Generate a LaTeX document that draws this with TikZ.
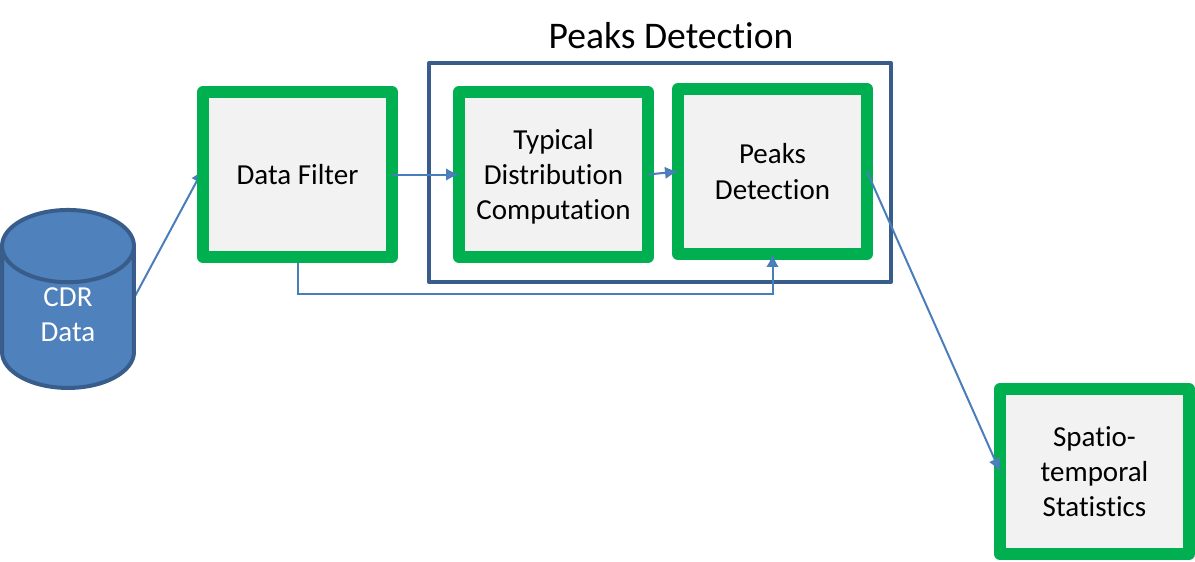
\documentclass[tikz,border=0pt]{standalone}
\usepackage{fontspec}
\setmainfont{Carlito}[Ligatures=NoCommon]
\usetikzlibrary{arrows.meta,shapes.geometric,backgrounds}
\definecolor{boxgreen}{HTML}{00B050}
\definecolor{boxgray}{HTML}{F2F2F2}
\definecolor{linkblue}{HTML}{4A7EBB}
\definecolor{dbblue}{HTML}{4F81BD}
\definecolor{edgeblue}{HTML}{385D8A}
\tikzset{
    stage/.style={draw=boxgreen, fill=boxgray, line width=0.24cm, line join=round,
        minimum width=3.78cm, minimum height=3.3cm, outer sep=0pt, inner sep=0pt,
        align=center, text depth=0pt, font=\fontsize{16.5}{20}\selectfont},
    link/.style={draw=linkblue, line width=0.04cm, -{Latex[length=0.26cm,width=0.25cm,fill=dbblue]}}
}
\begin{document}
\begin{tikzpicture}[x=0.02cm, y=-0.02cm]
    \useasboundingbox (0,0) rectangle (1195,561);
    \node[draw=edgeblue, line width=0.08cm, line join=round, minimum width=9.24cm, minimum height=4.38cm, outer sep=0pt] (group) at (660,172.5) {};
    \node[font=\fontsize{21.4}{25}\selectfont] (title) at (671,36) {Peaks Detection};
    \node[cylinder, shape border rotate=90, aspect=1.32, draw=edgeblue, fill=dbblue, line width=0.08cm,
        minimum width=2.64cm, minimum height=3.56cm, outer sep=0pt, inner sep=0pt, align=center, text depth=0.12cm,
        text=white, font=\fontsize{16.5}{20}\selectfont] (cdr) at (68,318) {CDR\\Data};
    \node[stage] (filter) at (297.5,174.5) {Data Filter};
    \node[stage] (typical) at (553.5,174.5) {Typical\\Distribution\\Computation};
    \node[stage] (peaks) at (772.5,171.5) {Peaks\\Detection};
    \node[stage] (spatio) at (1094.5,471.5) {Spatio-\\temporal\\Statistics};
    \begin{scope}[on background layer]
        \draw[link] ([yshift=0.4cm]cdr.east) -- ([yshift=0.1cm]filter.west);
    \end{scope}
    \draw[link] (filter.east) -- (typical.west);
    \draw[link] (typical.east) -- (peaks.west);
    \draw[link] (peaks.east) -- (spatio.west);
    \draw[link, shorten <=0.12cm] (filter.south) -- ++(0,37) -| (peaks.south);
\end{tikzpicture}
\end{document}
